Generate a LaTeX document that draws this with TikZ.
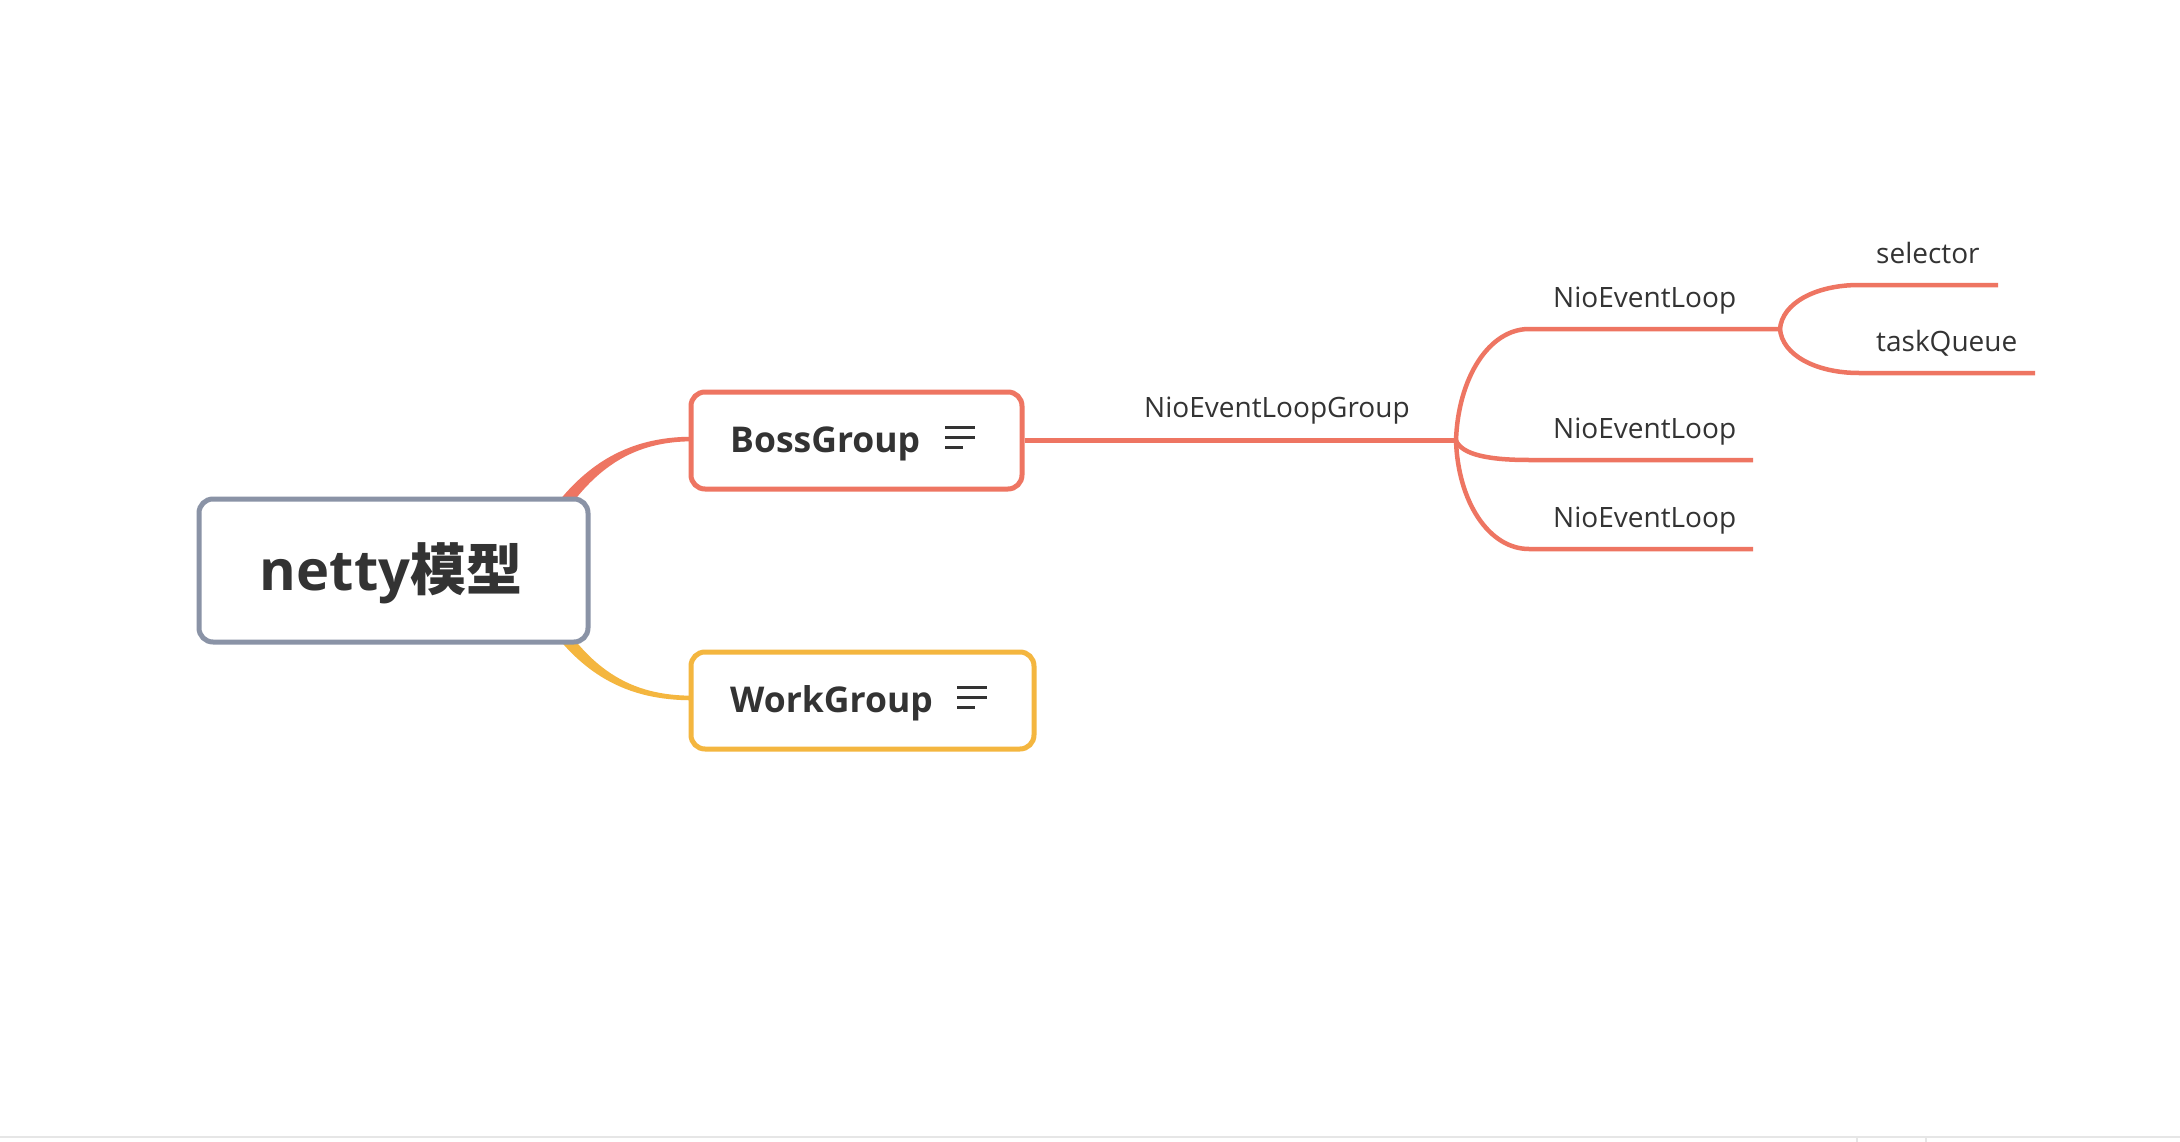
\documentclass[tikz,border=0pt]{standalone}
\usepackage{fontspec}
\setmainfont{Open Sans}
\newfontfamily\cjk{Noto Sans CJK SC}
\usetikzlibrary{calc}
\definecolor{coral}{HTML}{EE7562}
\definecolor{amber}{HTML}{F4B63F}
\definecolor{slate}{HTML}{8A93A6}
\definecolor{ink}{HTML}{333333}
\definecolor{rulegray}{HTML}{E6E6E6}
\tikzset{
  topicbox/.style={rectangle, rounded corners=14pt, line width=5pt, fill=white, inner sep=0pt},
  roottext/.style={text=ink, font=\fontsize{56}{62}\selectfont\bfseries, inner sep=0pt},
  maintext/.style={text=ink, font=\fontsize{35.5}{40}\selectfont\bfseries, inner sep=0pt},
  subtext/.style={text=ink, font=\fontsize{28}{32}\selectfont, inner sep=0pt},
  branch/.style={draw=coral, line width=4.5pt, line cap=butt},
  noteicon/.style={draw=ink, line width=3pt},
}
\begin{document}
\begin{tikzpicture}[x=1pt,y=-1pt]
\useasboundingbox (0,0) rectangle (2180,1142);
\fill[white] (0,0) rectangle (2180,1142);

% tapered branches from the root
\fill[coral] (528.8,546.7) .. controls (575,462) and (630,436.7) .. (693,436.7)
  -- (693,441.3) .. controls (632,441.3) and (585,468) .. (541.2,553.3) -- cycle;
\fill[amber] (528.8,594.3) .. controls (575,678) and (630,700.3) .. (693,700.3)
  -- (693,695.7) .. controls (632,695.7) and (585,672) .. (541.2,587.7) -- cycle;

% topic boxes
\node[topicbox, draw=slate, minimum width=389pt, minimum height=143pt] (root) at (393.5,570.5) {};
\node[roottext, anchor=base] (rootlbl) at (391,590) {netty{\cjk\bfseries 模型}};

\node[topicbox, draw=coral, minimum width=331pt, minimum height=97pt] (boss) at (856.5,440.5) {};
\node[maintext, anchor=base west] (bosslbl) at (730,452.5) {BossGroup};
\draw[noteicon] (945,427.7) -- (975,427.7) (945,437.7) -- (975,437.7) (945,447.7) -- (963,447.7);

\node[topicbox, draw=amber, minimum width=343pt, minimum height=97pt] (work) at (862.5,700.5) {};
\node[maintext, anchor=base west] (worklbl) at (730,712.5) {WorkGroup};
\draw[noteicon] (957,687.7) -- (987,687.7) (957,697.7) -- (987,697.7) (957,707.7) -- (975,707.7);

% sub branches
\coordinate (b1) at (1456,440.5);
\coordinate (e1) at (1529,329);  \coordinate (b2) at (1780,329);
\coordinate (e2) at (1529,460);  \coordinate (f2) at (1753,460);
\coordinate (e3) at (1529,549);  \coordinate (f3) at (1753,549);
\coordinate (e4) at (1859,285);  \coordinate (f4) at (1998,285);
\coordinate (e5) at (1859,373);  \coordinate (f5) at (2035,373);

\draw[branch] (boss.east) -- (b1);
\draw[branch] (b1) .. controls (1458,378) and (1489,329) .. (e1) -- (b2);
\draw[branch] (b1) .. controls (1462,455) and (1490,460) .. (e2) -- (f2);
\draw[branch] (b1) .. controls (1458,502) and (1489,549) .. (e3) -- (f3);
\draw[branch] (b2) .. controls (1782,303) and (1816,285) .. (e4) -- (f4);
\draw[branch] (b2) .. controls (1782,355) and (1816,373) .. (e5) -- (f5);

\node[subtext, anchor=base west] (nelg) at (1144,417) {NioEventLoopGroup};
\node[subtext, anchor=base west] (nel1) at (1553,307) {NioEventLoop};
\node[subtext, anchor=base west] (nel2) at (1553,438) {NioEventLoop};
\node[subtext, anchor=base west] (nel3) at (1553,527) {NioEventLoop};
\node[subtext, anchor=base west] (sel) at (1876,263) {selector};
\node[subtext, anchor=base west] (tq) at (1876,351) {taskQueue};

% bottom rule
\draw[rulegray, line width=2pt] (0,1137) -- (2180,1137);
\draw[rulegray, line width=2pt] (1857,1138) -- (1857,1142) (1926,1138) -- (1926,1142);
\end{tikzpicture}
\end{document}
